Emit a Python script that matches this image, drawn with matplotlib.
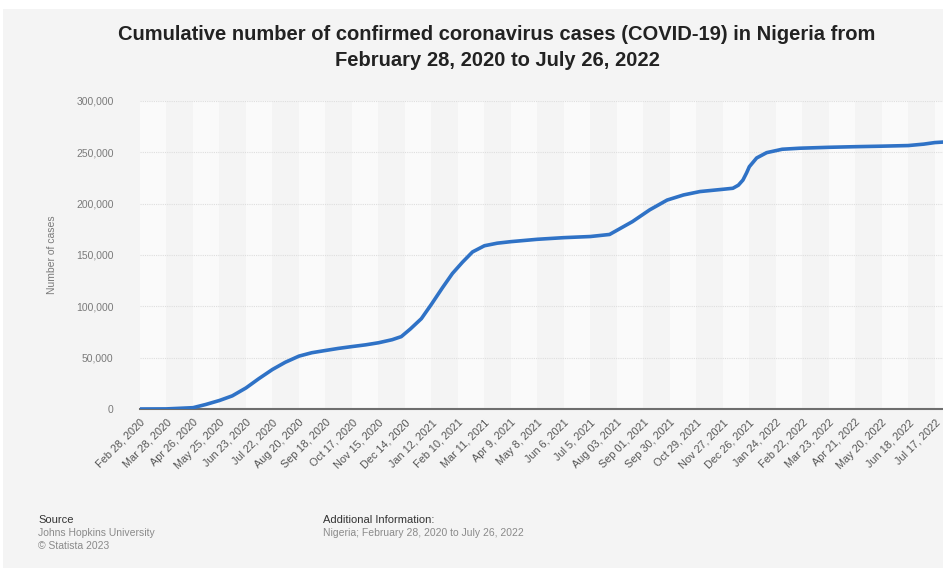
import numpy as np
import pandas as pd
import matplotlib
matplotlib.use('Agg')
from matplotlib import pyplot as plt
from matplotlib.patches import Rectangle
from matplotlib.ticker import FuncFormatter

# cumulative confirmed cases
dates = ['2020-02-28', '2020-03-28', '2020-04-26', '2020-05-10', '2020-05-25', '2020-06-08',
         '2020-06-23', '2020-07-07', '2020-07-22', '2020-08-05', '2020-08-20', '2020-09-03',
         '2020-09-18', '2020-10-02', '2020-10-17', '2020-11-01', '2020-11-15', '2020-11-30',
         '2020-12-10', '2020-12-20', '2021-01-01', '2021-01-12', '2021-01-24', '2021-02-04',
         '2021-02-15', '2021-02-26', '2021-03-11', '2021-03-25', '2021-04-09', '2021-05-08',
         '2021-06-06', '2021-07-05', '2021-07-26', '2021-08-20', '2021-09-08', '2021-09-27',
         '2021-10-15', '2021-11-02', '2021-11-27', '2021-12-08', '2021-12-14', '2021-12-19',
         '2021-12-23', '2021-12-26', '2022-01-03', '2022-01-14', '2022-01-31', '2022-02-19',
         '2022-03-23', '2022-04-21', '2022-05-20', '2022-06-18', '2022-07-05', '2022-07-17',
         '2022-07-26']
cases = [1, 97, 1273, 4400, 8300, 12800,
         20500, 29500, 38500, 45500, 51500, 54800,
         57000, 59000, 60800, 62500, 64500, 67500,
         70500, 78000, 88000, 102000, 118000, 132000,
         143000, 153000, 159000, 161500, 163000, 165300,
         166900, 168000, 170000, 182500, 194000, 203500,
         208500, 211800, 214000, 215000, 218000, 223000,
         230000, 236000, 244500, 249700, 253000, 254000,
         254900, 255500, 256000, 256600, 258000, 259500,
         260000]

tick_labels = ['Feb 28, 2020', 'Mar 28, 2020', 'Apr 26, 2020', 'May 25, 2020', 'Jun 23, 2020',
               'Jul 22, 2020', 'Aug 20, 2020', 'Sep 18, 2020', 'Oct 17, 2020', 'Nov 15, 2020',
               'Dec 14, 2020', 'Jan 12, 2021', 'Feb 10, 2021', 'Mar 11, 2021', 'Apr 9, 2021',
               'May 8, 2021', 'Jun 6, 2021', 'Jul 5, 2021', 'Aug 03, 2021', 'Sep 01, 2021',
               'Sep 30, 2021', 'Oct 29, 2021', 'Nov 27, 2021', 'Dec 26, 2021', 'Jan 24, 2022',
               'Feb 22, 2022', 'Mar 23, 2022', 'Apr 21, 2022', 'May 20, 2022', 'Jun 18, 2022',
               'Jul 17, 2022']
yticks = [0, 50000, 100000, 150000, 200000, 250000, 300000]

x = pd.to_datetime(dates)
tick_dates = pd.to_datetime(tick_labels, format='%b %d, %Y')
x_end = pd.Timestamp('2022-07-26')

plt.rcParams['font.family'] = ['Liberation Sans', 'DejaVu Sans']

fig = plt.figure(figsize=(9.43, 5.68), dpi=100)
fig.patch.set_facecolor('white')
# grey panel behind everything (small white margin at top/left like the screenshot)
fig.patches.append(Rectangle((3 / 943, 0), 1, 1 - 9 / 568, transform=fig.transFigure,
                             facecolor='#f4f4f4', edgecolor='none', zorder=-10))

ax = fig.add_axes([140 / 943, 1 - 409 / 568, 1 - 140 / 943, (409 - 101) / 568])
ax.set_facecolor('#f4f4f4')

# alternating column bands
edges = list(tick_dates) + [x_end]
for i in range(len(edges) - 1):
    c = '#fafafa' if i % 2 == 0 else '#f4f4f4'
    ax.axvspan(edges[i], edges[i + 1], color=c, lw=0, zorder=0)

for yv in yticks[1:]:
    ax.axhline(yv, color='#dedede', lw=0.8, ls=(0, (1, 1)), zorder=1)

ax.plot(x, cases, color='#2f72c6', lw=2.6, solid_capstyle='round', zorder=3)

ax.set_xlim(tick_dates[0], x_end)
ax.set_ylim(0, 300000)
ax.set_yticks(yticks)
ax.yaxis.set_major_formatter(FuncFormatter(lambda v, p: '{:,.0f}'.format(v)))
ax.tick_params(axis='y', length=0, pad=19, labelsize=7.5, labelcolor='#7a7a7a')
ax.set_xticks(tick_dates)
ax.set_xticklabels(tick_labels, rotation=45, ha='right', rotation_mode='anchor')
ax.tick_params(axis='x', length=0, pad=6, labelsize=7.8, labelcolor='#555555')
for s in ['top', 'right', 'left']:
    ax.spines[s].set_visible(False)
ax.spines['bottom'].set_color('#6e6e6e')
ax.spines['bottom'].set_linewidth(1.5)
ax.set_ylabel('Number of cases', fontsize=7.5, color='#7a7a7a', labelpad=14)

fig.text(0.527, 1 - 35 / 568, 'Cumulative number of confirmed coronavirus cases (COVID-19) in Nigeria from',
         ha='center', va='center', fontsize=14.5, fontweight='bold', color='#222222')
fig.text(0.527, 1 - 60 / 568, 'February 28, 2020 to July 26, 2022',
         ha='center', va='center', fontsize=14.5, fontweight='bold', color='#222222')

fig.text(38 / 943, 1 - 520 / 568, 'Source', fontsize=8, color='#333333', va='center')
fig.text(38 / 943, 1 - 533 / 568, 'Johns Hopkins University', fontsize=7.5, color='#8a8a8a', va='center')
fig.text(38 / 943, 1 - 546 / 568, '\u00a9 Statista 2023', fontsize=7.5, color='#8a8a8a', va='center')
fig.text(323 / 943, 1 - 520 / 568, 'Additional Information:', fontsize=8, color='#333333', va='center')
fig.text(323 / 943, 1 - 533 / 568, 'Nigeria; February 28, 2020 to July 26, 2022', fontsize=7.5,
         color='#8a8a8a', va='center')

fig.savefig('out.png', dpi=100, facecolor=fig.get_facecolor())
